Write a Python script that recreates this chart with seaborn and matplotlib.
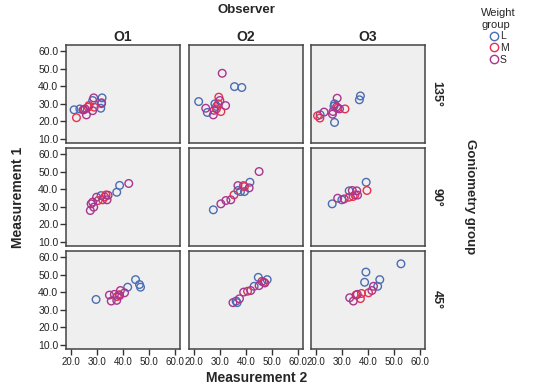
import numpy as np
import pandas as pd
import matplotlib
matplotlib.use("Agg")
import matplotlib.pyplot as plt
import seaborn as sns
from matplotlib.lines import Line2D

observers = ["O1", "O2", "O3"]
angles = ["135°", "90°", "45°"]
groups = ["L", "M", "S"]
colors = {"L": "#4a6db3", "M": "#e8304f", "S": "#a8368e"}

# Measurement 2 (x), Measurement 1 (y), weight group, per observer / goniometry panel
o1_135_x = [21.3, 28.4, 32.0, 31.5, 31.8, 23.5, 22.2, 26.7, 29.0, 25.0, 27.0, 24.8, 26.0, 28.4, 28.8, 31.8, 25.5]
o1_135_y = [26.5, 31.8, 33.3, 27.4, 30.0, 27.0, 22.0, 28.0, 28.0, 26.5, 29.0, 26.5, 23.6, 26.0, 33.3, 30.5, 27.0]
o1_135_g = ["L", "L", "L", "L", "L", "L", "M", "M", "M", "M", "M", "S", "S", "S", "S", "S", "S"]

o2_135_x = [35.6, 38.4, 21.9, 25.2, 28.1, 28.7, 30.4, 29.6, 29.4, 28.7, 30.9, 24.6, 27.5, 30.0, 32.2, 27.8]
o2_135_y = [39.7, 39.2, 31.2, 25.0, 29.9, 28.4, 25.5, 33.7, 29.9, 27.0, 47.3, 27.4, 23.6, 31.8, 28.9, 26.2]
o2_135_g = ["L", "L", "L", "L", "L", "L", "M", "M", "M", "M", "S", "S", "S", "S", "S", "S"]

o3_135_x = [37.1, 36.7, 27.2, 27.0, 27.2, 21.7, 31.2, 20.7, 21.6, 28.4, 28.2, 29.1, 26.6, 26.4, 23.2, 28.0]
o3_135_y = [34.4, 32.2, 29.9, 28.6, 19.3, 23.7, 27.0, 23.1, 21.8, 27.5, 33.1, 27.0, 25.5, 24.0, 25.2, 28.2]
o3_135_g = ["L", "L", "L", "L", "L", "L", "M", "M", "M", "M", "S", "S", "S", "S", "S", "S"]

o1_90_x = [38.7, 37.6, 31.6, 33.5, 32.2, 30.5, 33.0, 42.2, 33.9, 29.9, 28.4, 27.8, 28.8, 27.5, 34.3]
o1_90_y = [42.1, 38.2, 36.3, 36.7, 33.9, 33.5, 35.5, 43.2, 33.9, 35.4, 32.6, 31.6, 29.7, 27.8, 36.5]
o1_90_g = ["L", "L", "L", "M", "M", "M", "M", "S", "S", "S", "S", "S", "S", "S", "S"]

o2_90_x = [41.5, 36.9, 39.4, 37.9, 27.5, 39.0, 35.4, 39.4, 45.0, 41.2, 36.9, 34.2, 32.3, 30.4]
o2_90_y = [43.9, 39.2, 38.6, 38.6, 28.2, 42.0, 36.7, 41.4, 50.0, 40.7, 42.0, 33.9, 33.5, 31.6]
o2_90_g = ["L", "L", "L", "L", "L", "M", "M", "M", "S", "S", "S", "S", "S", "S"]

o3_90_x = [39.3, 32.8, 30.0, 26.3, 39.6, 35.0, 34.3, 32.8, 34.0, 35.7, 30.9, 28.4, 36.0]
o3_90_y = [43.9, 39.0, 33.9, 31.6, 39.2, 36.7, 35.8, 35.4, 39.2, 39.0, 34.4, 34.8, 36.6]
o3_90_g = ["L", "L", "L", "L", "M", "M", "M", "M", "S", "S", "S", "S", "S"]

o1_45_x = [44.8, 46.3, 46.7, 41.8, 29.7, 38.5, 37.8, 40.6, 39.0, 36.7, 34.8, 35.5, 37.6, 38.7]
o1_45_y = [47.1, 44.3, 42.8, 42.8, 35.8, 38.5, 37.5, 39.6, 40.9, 38.7, 38.3, 34.9, 35.3, 38.0]
o1_45_g = ["L", "L", "L", "L", "L", "M", "M", "S", "S", "S", "S", "S", "S", "S"]

o2_45_x = [44.7, 48.1, 43.1, 36.2, 36.6, 46.8, 40.6, 46.1, 45.0, 41.8, 39.1, 37.5, 35.0, 47.2]
o2_45_y = [48.4, 47.1, 43.3, 34.9, 34.0, 45.6, 40.5, 46.1, 43.7, 40.9, 40.0, 36.2, 34.0, 45.2]
o2_45_g = ["L", "L", "L", "L", "L", "M", "M", "S", "S", "S", "S", "S", "S", "S"]

o3_45_x = [52.6, 39.2, 44.5, 38.7, 43.7, 40.2, 37.5, 37.1, 35.4, 42.1, 41.5, 35.9, 33.0, 34.4]
o3_45_y = [56.1, 51.4, 47.1, 45.6, 43.3, 39.6, 39.2, 36.3, 38.3, 43.3, 40.9, 38.7, 36.8, 34.9]
o3_45_g = ["L", "L", "L", "L", "L", "M", "M", "M", "M", "S", "S", "S", "S", "S"]

panels = {
    ("O1", "135°"): (o1_135_x, o1_135_y, o1_135_g),
    ("O2", "135°"): (o2_135_x, o2_135_y, o2_135_g),
    ("O3", "135°"): (o3_135_x, o3_135_y, o3_135_g),
    ("O1", "90°"): (o1_90_x, o1_90_y, o1_90_g),
    ("O2", "90°"): (o2_90_x, o2_90_y, o2_90_g),
    ("O3", "90°"): (o3_90_x, o3_90_y, o3_90_g),
    ("O1", "45°"): (o1_45_x, o1_45_y, o1_45_g),
    ("O2", "45°"): (o2_45_x, o2_45_y, o2_45_g),
    ("O3", "45°"): (o3_45_x, o3_45_y, o3_45_g),
}

rows = []
for (obs, ang), (xs, ys, gs) in panels.items():
    for x, y, g in zip(xs, ys, gs):
        rows.append({"observer": obs, "angle": ang, "m2": x, "m1": y, "group": g})
df = pd.DataFrame(rows)

sns.set_style("white")
plt.rcParams["font.family"] = ["Liberation Sans", "DejaVu Sans"]

W, H = 550, 389
fig = plt.figure(figsize=(5.5, 3.89), dpi=100)

col_left = [66, 189, 311]
row_top = [45, 148, 251]
pw, ph = 114, 98

for r, ang in enumerate(angles):
    for c, obs in enumerate(observers):
        ax = fig.add_axes([col_left[c] / W, 1 - (row_top[r] + ph) / H, pw / W, ph / H])
        sub = df[(df.observer == obs) & (df.angle == ang)]
        sns.scatterplot(data=sub, x="m2", y="m1", hue="group", hue_order=groups,
                        palette=colors, s=30, linewidth=1.0, legend=False, ax=ax)
        for coll in ax.collections:
            fc = coll.get_facecolors()
            coll.set_edgecolors(fc)
            coll.set_facecolors("none")
        ax.set_facecolor("#efefef")
        ax.set_xlim(18.2, 61.8)
        ax.set_ylim(7.6, 63.4)
        ax.set_xticks([20, 30, 40, 50, 60])
        ax.set_yticks([10, 20, 30, 40, 50, 60])
        ax.set_xlabel("")
        ax.set_ylabel("")
        for sp in ax.spines.values():
            sp.set_color("#444444")
            sp.set_linewidth(1.1)
        ax.tick_params(length=4, width=1, color="#333333", labelsize=7.5, labelcolor="#222222", pad=1.5)
        ax.tick_params(axis="x", labelsize=7)
        if c == 0:
            ax.set_yticklabels([f"{v:.1f}" for v in [10, 20, 30, 40, 50, 60]])
            ax.tick_params(axis="y", left=True)
        else:
            ax.tick_params(axis="y", left=False, labelleft=False)
        if r == 2:
            ax.set_xticklabels([f"{v:.1f}" for v in [20, 30, 40, 50, 60]])
            ax.tick_params(axis="x", bottom=True)
        else:
            ax.tick_params(axis="x", bottom=False, labelbottom=False)
        if r == 0:
            ax.set_title(obs, fontsize=10, fontweight="bold", pad=3)
        if c == 2:
            ax.text(1.1, 0.5, ang, transform=ax.transAxes, rotation=-90,
                    ha="center", va="center", fontsize=9, fontweight="bold")

fig.text(246 / W, 1 - 10 / H, "Observer", ha="center", va="center", fontsize=9.5, fontweight="bold")
fig.text(257 / W, 1 - 378 / H, "Measurement 2", ha="center", va="center", fontsize=10, fontweight="bold")
fig.text(18 / W, 1 - 197 / H, "Measurement 1", ha="center", va="center", rotation=90,
         fontsize=10, fontweight="bold")
fig.text(470 / W, 1 - 197 / H, "Goniometry group", ha="center", va="center", rotation=-90,
         fontsize=9.5, fontweight="bold")

handles = [Line2D([], [], marker="o", linestyle="none", markerfacecolor="none",
                  markeredgecolor=colors[g], markersize=6, markeredgewidth=1.0) for g in groups]
fig.legend(handles, groups, title="Weight\ngroup", loc="upper left",
           bbox_to_anchor=(474 / W, 1 - 1 / H), frameon=False, fontsize=7.5,
           title_fontsize=8, handletextpad=0.1, labelspacing=0.15, handlelength=1.0,
           borderpad=0.2)

fig.savefig("out.png", dpi=100)
